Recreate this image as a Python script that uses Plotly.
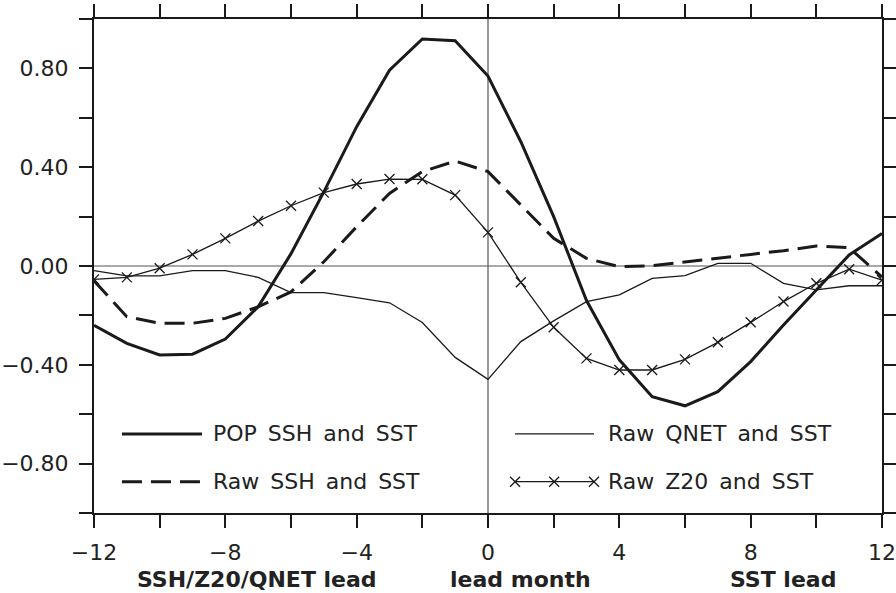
import plotly.graph_objects as go

months = list(range(-12, 13))
pop_ssh = [-0.24, -0.313, -0.36, -0.357, -0.296, -0.165, 0.05, 0.30, 0.564, 0.793, 0.919, 0.912,
           0.769, 0.503, 0.20, -0.14, -0.38, -0.529, -0.566, -0.509, -0.387, -0.239, -0.097, 0.045, 0.132]
raw_ssh = [-0.06, -0.205, -0.232, -0.232, -0.212, -0.165, -0.105, 0.017, 0.159, 0.294, 0.382, 0.425,
           0.382, 0.247, 0.112, 0.031, -0.003, 0.001, 0.017, 0.034, 0.047, 0.062, 0.081, 0.074, -0.045]
raw_qnet = [-0.019, -0.04, -0.04, -0.019, -0.019, -0.046, -0.108, -0.108, -0.128, -0.149, -0.229, -0.37,
            -0.459, -0.306, -0.222, -0.144, -0.117, -0.05, -0.039, 0.011, 0.011, -0.07, -0.097, -0.08, -0.08]
raw_z20 = [-0.054, -0.046, -0.009, 0.047, 0.112, 0.182, 0.244, 0.297, 0.332, 0.352, 0.351, 0.287,
           0.136, -0.066, -0.248, -0.374, -0.421, -0.421, -0.378, -0.309, -0.228, -0.144, -0.07, -0.013, -0.057]

y_tickvals = [-1.0, -0.8, -0.6, -0.4, -0.2, 0.0, 0.2, 0.4, 0.6, 0.8, 1.0]
y_ticktext = ["", "\u22120.80", "", "\u22120.40", "", "0.00", "", "0.40", "", "0.80", ""]
x_tickvals = list(range(-12, 13, 2))
x_ticktext = ["\u221212", "", "\u22128", "", "\u22124", "", "0", "", "4", "", "8", "", "12"]

legend_names = ["POP SSH and SST", "Raw SSH and SST", "Raw QNET and SST", "Raw Z20 and SST"]
bottom_labels = ["SSH/Z20/QNET lead", "lead month", "SST lead"]

INK = "#1a1a1a"
FONT = "DejaVu Sans"
SP = "\u2002"

fig = go.Figure()

# reference lines
fig.add_shape(type="line", xref="paper", x0=0, x1=1, yref="y", y0=0, y1=0,
              line=dict(color="#555555", width=1.2), layer="below")
fig.add_shape(type="line", xref="x", x0=0, x1=0, yref="paper", y0=0, y1=1,
              line=dict(color="#555555", width=1.2), layer="below")

fig.add_trace(go.Scatter(x=months, y=raw_qnet, mode="lines",
                         line=dict(color=INK, width=1.3), showlegend=False))
fig.add_trace(go.Scatter(x=months, y=raw_z20, mode="lines+markers",
                         line=dict(color=INK, width=1.3),
                         marker=dict(symbol="x-thin", size=10, line=dict(color=INK, width=1.3)),
                         showlegend=False))
fig.add_trace(go.Scatter(x=months, y=raw_ssh, mode="lines",
                         line=dict(color=INK, width=3, dash="20px,9px"), showlegend=False))
fig.add_trace(go.Scatter(x=months, y=pop_ssh, mode="lines",
                         line=dict(color=INK, width=3), showlegend=False))

# manual legend (paper coordinates of the plot area)
row1, row2 = 0.16, 0.0634
fig.add_trace(go.Scatter(x=[0.0355, 0.137], y=[row1, row1], xaxis="x2", yaxis="y2", mode="lines",
                         line=dict(color=INK, width=3), showlegend=False, hoverinfo="skip"))
fig.add_trace(go.Scatter(x=[0.0355, 0.140], y=[row2, row2], xaxis="x2", yaxis="y2", mode="lines",
                         line=dict(color=INK, width=3, dash="20px,9px"), showlegend=False, hoverinfo="skip"))
fig.add_trace(go.Scatter(x=[0.5343, 0.6345], y=[row1, row1], xaxis="x2", yaxis="y2", mode="lines",
                         line=dict(color=INK, width=1.3), showlegend=False, hoverinfo="skip"))
fig.add_trace(go.Scatter(x=[0.5343, 0.584, 0.6345], y=[row2, row2, row2], xaxis="x2", yaxis="y2",
                         mode="lines+markers", line=dict(color=INK, width=1.3),
                         marker=dict(symbol="x-thin", size=10, line=dict(color=INK, width=1.3)),
                         showlegend=False, hoverinfo="skip"))

leg_pos = [(0.1485, row1), (0.1485, row2), (0.65, row1), (0.65, row2)]
for name, (lx, ly) in zip(legend_names, leg_pos):
    fig.add_annotation(text=name.replace(" ", SP), xref="paper", yref="paper", x=lx, y=ly,
                       xanchor="left", yanchor="middle", showarrow=False,
                       font=dict(family=FONT, size=22, color="#222222"))

label_x = [-7.04, 1.0, 8.97]
for txt, lx in zip(bottom_labels, label_x):
    fig.add_annotation(text="<b>" + txt + "</b>", xref="x", yref="paper", x=lx, y=-0.134,
                       xanchor="center", yanchor="middle", showarrow=False,
                       font=dict(family=FONT, size=22, color="#222222"))

axis_common = dict(showline=True, linecolor=INK, linewidth=2, mirror="allticks",
                   ticks="outside", ticklen=13, tickwidth=2, tickcolor=INK,
                   showgrid=False, zeroline=False, automargin=False,
                   tickfont=dict(family=FONT, size=22, color="#222222"))

fig.update_layout(
    width=896, height=593,
    margin=dict(l=94, r=14, t=19, b=80),
    paper_bgcolor="white", plot_bgcolor="white",
    showlegend=False,
    xaxis=dict(range=[-12, 12], tickmode="array", tickvals=x_tickvals, ticktext=x_ticktext,
               ticklabelstandoff=6, **axis_common),
    yaxis=dict(range=[-1, 1], tickmode="array", tickvals=y_tickvals, ticktext=y_ticktext,
               ticklabelstandoff=6, **axis_common),
    xaxis2=dict(range=[0, 1], overlaying="x", visible=False, fixedrange=True),
    yaxis2=dict(range=[0, 1], overlaying="y", visible=False, fixedrange=True),
)

fig.write_html("out.html")
